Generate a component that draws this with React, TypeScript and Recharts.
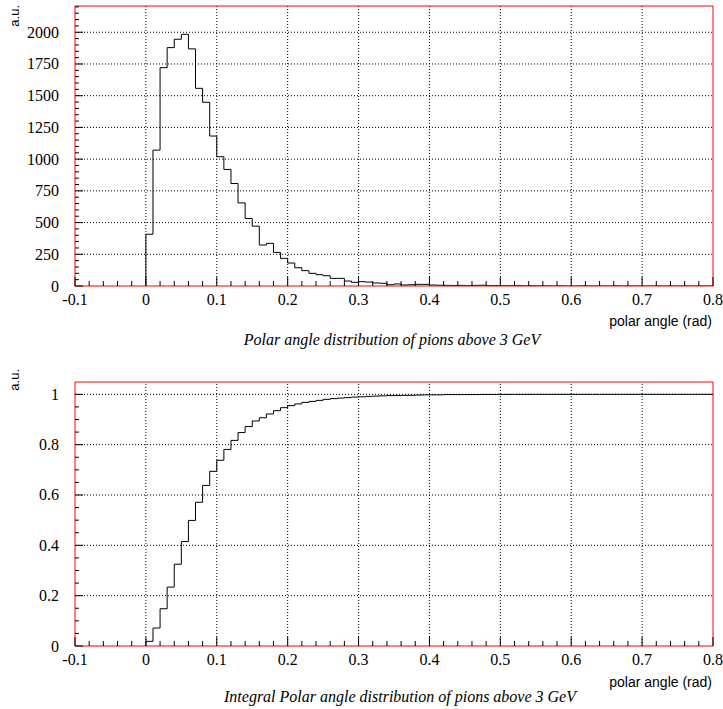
import React from 'react';
import { LineChart, Line, XAxis, YAxis, ReferenceLine } from 'recharts';

// ---------- data ----------
const X_MAJOR = [-0.1, 0, 0.1, 0.2, 0.3, 0.4, 0.5, 0.6, 0.7, 0.8];
const X_LABELS = ['-0.1', '0', '0.1', '0.2', '0.3', '0.4', '0.5', '0.6', '0.7', '0.8'];
const X_DOMAIN: [number, number] = [-0.1, 0.8];
const BIN_START = 0;
const BIN_WIDTH = 0.01;

// counts per 0.01 rad bin, 0.00 .. 0.80
const COUNTS = [
  408, 1071, 1721, 1879, 1945, 1984, 1869, 1558, 1448, 1182,
  1019, 919, 808, 655, 532, 472, 323, 336, 265, 218,
  181, 144, 121, 100, 89, 81, 60, 60, 39, 29,
  34, 31, 24, 21, 10, 16, 8, 10, 13, 13,
  8, 6, 5, 4, 5, 3, 5, 6, 3, 4,
  2, 2, 3, 1, 2, 1, 1, 0, 1, 0,
  0, 1, 0, 0, 0, 0, 1, 0, 0, 0,
  0, 0, 0, 0, 0, 0, 0, 0, 0, 0,
];

// integral distribution per bin
const INTEGRAL = [
  0.0185, 0.0715, 0.148, 0.234, 0.325, 0.415, 0.499, 0.571, 0.638, 0.694,
  0.738, 0.781, 0.817, 0.848, 0.872, 0.894, 0.907, 0.922, 0.935, 0.947,
  0.955, 0.962, 0.968, 0.972, 0.976, 0.98, 0.983, 0.985, 0.987, 0.989,
  0.99, 0.992, 0.993, 0.994, 0.995, 0.995, 0.996, 0.996, 0.997, 0.998,
  0.998, 0.998, 0.999, 0.999, 0.999, 0.999, 0.999, 0.9995, 0.9995, 0.9996,
  0.9997, 0.9998, 0.9998, 0.9999, 0.9999, 1, 1, 1, 1, 1,
  1, 1, 1, 1, 1, 1, 1, 1, 1, 1,
  1, 1, 1, 1, 1, 1, 1, 1, 1, 1,
];

const Y1_MAJOR = [0, 250, 500, 750, 1000, 1250, 1500, 1750, 2000];
const Y1_LABELS = ['0', '250', '500', '750', '1000', '1250', '1500', '1750', '2000'];
const Y1_DOMAIN: [number, number] = [0, 2207];
const Y1_MINOR_STEP = 50;

const Y2_MAJOR = [0, 0.2, 0.4, 0.6, 0.8, 1];
const Y2_LABELS = ['0', '0.2', '0.4', '0.6', '0.8', '1'];
const Y2_DOMAIN: [number, number] = [0, 1.049];
const Y2_MINOR_STEP = 0.05;

const X_MINOR_STEP = 0.02;

const TITLE1 = 'Polar angle distribution of pions above 3 GeV';
const TITLE2 = 'Integral Polar angle distribution of pions above 3 GeV';
const X_TITLE = 'polar angle (rad)';
const Y_TITLE = 'a.u.';

// ---------- helpers ----------
const SERIF = '"Liberation Serif", "Times New Roman", serif';
const SANS = '"Liberation Sans", Arial, sans-serif';
const RED = '#ff0000';

function steps(lo: number, hi: number, step: number): number[] {
  const out: number[] = [];
  const n = Math.round((hi - lo) / step);
  for (let i = 0; i <= n; i++) out.push(+(lo + i * step).toFixed(6));
  return out;
}

function buildHist(values: number[]) {
  const pts = [{ x: BIN_START, y: 0 }];
  values.forEach((v, i) => pts.push({ x: +(BIN_START + i * BIN_WIDTH).toFixed(4), y: v }));
  pts.push({ x: +(BIN_START + values.length * BIN_WIDTH).toFixed(4), y: values[values.length - 1] });
  return pts;
}

function findMajor(majors: number[], v: number) {
  return majors.findIndex((m) => Math.abs(m - v) < 1e-6);
}

function makeXTick(majors: number[], labels: string[]) {
  return (props: any) => {
    const { x, y, payload } = props;
    const idx = findMajor(majors, payload.value);
    const len = idx >= 0 ? 9 : 5;
    return (
      <g>
        <line x1={x} x2={x} y1={y} y2={y - len} stroke="#000" strokeWidth={1} />
        {idx >= 0 && (
          <text x={x} y={y + 19} textAnchor="middle" fontFamily={SERIF} fontSize={16} fill="#000">
            {labels[idx]}
          </text>
        )}
      </g>
    );
  };
}

function makeYTick(majors: number[], labels: string[]) {
  return (props: any) => {
    const { x, y, payload } = props;
    const idx = findMajor(majors, payload.value);
    const len = idx >= 0 ? 8 : 4;
    return (
      <g>
        <line x1={x} x2={x + len} y1={y} y2={y} stroke="#000" strokeWidth={1} />
        {idx >= 0 && (
          <text x={x - 16} y={y + 5.5} textAnchor="end" fontFamily={SERIF} fontSize={16} fill="#000">
            {labels[idx]}
          </text>
        )}
      </g>
    );
  };
}

const X_TICKS = steps(X_DOMAIN[0], X_DOMAIN[1], X_MINOR_STEP);
const Y1_TICKS = steps(0, 2200, Y1_MINOR_STEP);
const Y2_TICKS = steps(0, 1.0, Y2_MINOR_STEP);

const XTick = makeXTick(X_MAJOR, X_LABELS);
const Y1Tick = makeYTick(Y1_MAJOR, Y1_LABELS);
const Y2Tick = makeYTick(Y2_MAJOR, Y2_LABELS);

function Panel(props: {
  data: { x: number; y: number }[];
  yDomain: [number, number];
  yTicks: number[];
  yMajor: number[];
  YTick: any;
  height: number;
  margin: { top: number; right: number; bottom: number; left: number };
}) {
  const { data, yDomain, yTicks, yMajor, YTick, height, margin } = props;
  return (
    <LineChart width={723} height={height} data={data} margin={margin}>
      <XAxis
        dataKey="x"
        type="number"
        domain={X_DOMAIN}
        ticks={X_TICKS}
        interval={0}
        allowDataOverflow
        height={30}
        tickSize={0}
        tickMargin={0}
        tickLine={false}
        axisLine={{ stroke: RED, strokeWidth: 1 }}
        tick={XTick}
      />
      <YAxis
        type="number"
        domain={yDomain}
        ticks={yTicks}
        interval={0}
        allowDataOverflow
        width={60}
        tickSize={0}
        tickMargin={0}
        tickLine={false}
        axisLine={{ stroke: RED, strokeWidth: 1 }}
        tick={YTick}
      />
      {X_MAJOR.filter((v) => v > X_DOMAIN[0] && v < X_DOMAIN[1]).map((v) => (
        <ReferenceLine key={'gx' + v} x={v} stroke="#000" strokeWidth={1} strokeDasharray="1 2" />
      ))}
      {yMajor.filter((v) => v > 0).map((v) => (
        <ReferenceLine key={'gy' + v} y={v} stroke="#000" strokeWidth={1} strokeDasharray="1 2" />
      ))}
      <ReferenceLine y={yDomain[1]} stroke={RED} strokeWidth={1} />
      <ReferenceLine x={X_DOMAIN[1]} stroke={RED} strokeWidth={1} />
      <Line
        type="stepAfter"
        dataKey="y"
        stroke="#000"
        strokeWidth={1}
        dot={false}
        activeDot={false}
        isAnimationActive={false}
      />
    </LineChart>
  );
}

export default function App() {
  const hist = buildHist(COUNTS);
  const integ = buildHist(INTEGRAL);
  return (
    <div style={{ position: 'absolute', left: 0, top: 0, width: 723, height: 709, background: '#fff' }}>
      <div style={{ position: 'absolute', left: 0, top: 0 }}>
        <Panel
          data={hist}
          yDomain={Y1_DOMAIN}
          yTicks={Y1_TICKS}
          yMajor={Y1_MAJOR}
          YTick={Y1Tick}
          height={360}
          margin={{ top: 6, right: 10, bottom: 44, left: 15 }}
        />
      </div>
      <div style={{ position: 'absolute', left: 0, top: 360 }}>
        <Panel
          data={integ}
          yDomain={Y2_DOMAIN}
          yTicks={Y2_TICKS}
          yMajor={Y2_MAJOR}
          YTick={Y2Tick}
          height={349}
          margin={{ top: 22, right: 10, bottom: 33, left: 15 }}
        />
      </div>
      <svg
        width={723}
        height={709}
        style={{ position: 'absolute', left: 0, top: 0, pointerEvents: 'none' }}
      >
        <text transform="translate(19,5) rotate(-90)" textAnchor="end" fontFamily={SANS} fontSize={13} fill="#000">
          {Y_TITLE}
        </text>
        <text x={712} y={326} textAnchor="end" fontFamily={SANS} fontSize={14} fill="#000">
          {X_TITLE}
        </text>
        <text x={392} y={345} textAnchor="middle" fontFamily={SERIF} fontStyle="italic" fontSize={16} fill="#000">
          {TITLE1}
        </text>
        <text transform="translate(19,369) rotate(-90)" textAnchor="end" fontFamily={SANS} fontSize={13} fill="#000">
          {Y_TITLE}
        </text>
        <text x={712} y={687} textAnchor="end" fontFamily={SANS} fontSize={14} fill="#000">
          {X_TITLE}
        </text>
        <text x={400} y={702} textAnchor="middle" fontFamily={SERIF} fontStyle="italic" fontSize={16} fill="#000">
          {TITLE2}
        </text>
      </svg>
    </div>
  );
}
